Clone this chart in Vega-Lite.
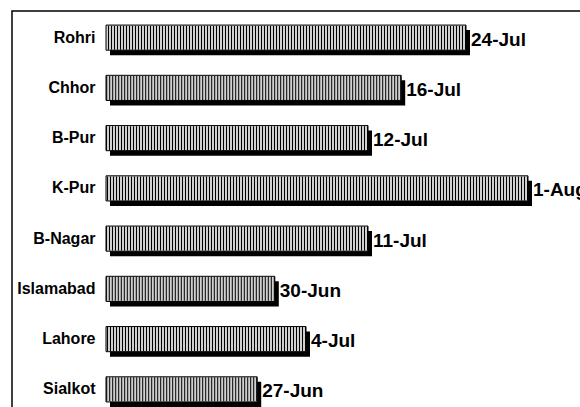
{
  "$schema": "https://vega.github.io/schema/vega-lite/v6.json",
  "width": 600,
  "height": 405,
  "autosize": {"type": "none"},
  "padding": {"left": 12, "top": 11, "right": 0, "bottom": 0},
  "background": "white",
  "view": {"stroke": "black", "strokeWidth": 1.5},
  "data": {
    "values": [
      {"site": "Rohri", "days": 45, "date": "24-Jul"},
      {"site": "Chhor", "days": 36.9, "date": "16-Jul"},
      {"site": "B-Pur", "days": 32.75, "date": "12-Jul"},
      {"site": "K-Pur", "days": 52.75, "date": "1-Aug"},
      {"site": "B-Nagar", "days": 32.75, "date": "11-Jul"},
      {"site": "Islamabad", "days": 21.1, "date": "30-Jun"},
      {"site": "Lahore", "days": 25, "date": "4-Jul"},
      {"site": "Sialkot", "days": 18.9, "date": "27-Jun"}
    ]
  },
  "encoding": {
    "y": {
      "field": "site",
      "type": "nominal",
      "sort": null,
      "scale": {"paddingInner": 0.5, "paddingOuter": 0.28},
      "axis": {
        "title": null,
        "offset": -94,
        "domain": false,
        "ticks": false,
        "labelPadding": 11,
        "labelFont": "Liberation Sans",
        "labelFontWeight": "bold",
        "labelFontSize": 16,
        "labelColor": "black"
      }
    }
  },
  "layer": [
    {
      "mark": {"type": "bar", "color": "black", "xOffset": 4, "yOffset": 5},
      "encoding": {
        "x": {
          "field": "days",
          "type": "quantitative",
          "scale": {"domain": [-11.75, 63.25], "nice": false, "zero": false},
          "axis": null
        }
      }
    },
    {
      "mark": {"type": "bar", "fill": "#d0d0d0", "stroke": "black", "strokeWidth": 1},
      "encoding": {
        "x": {"field": "days", "type": "quantitative"}
      }
    },
    {
      "mark": {"type": "rule", "color": "black", "strokeWidth": 24, "strokeDash": [1, 2], "strokeCap": "butt"},
      "encoding": {
        "x": {"field": "days", "type": "quantitative"},
        "x2": {"datum": 0}
      }
    },
    {
      "mark": {"type": "text", "align": "left", "baseline": "middle", "dx": 5, "dy": 2, "font": "Liberation Sans", "fontWeight": "bold", "fontSize": 19, "color": "black"},
      "encoding": {
        "x": {"field": "days", "type": "quantitative"},
        "text": {"field": "date"}
      }
    }
  ]
}
